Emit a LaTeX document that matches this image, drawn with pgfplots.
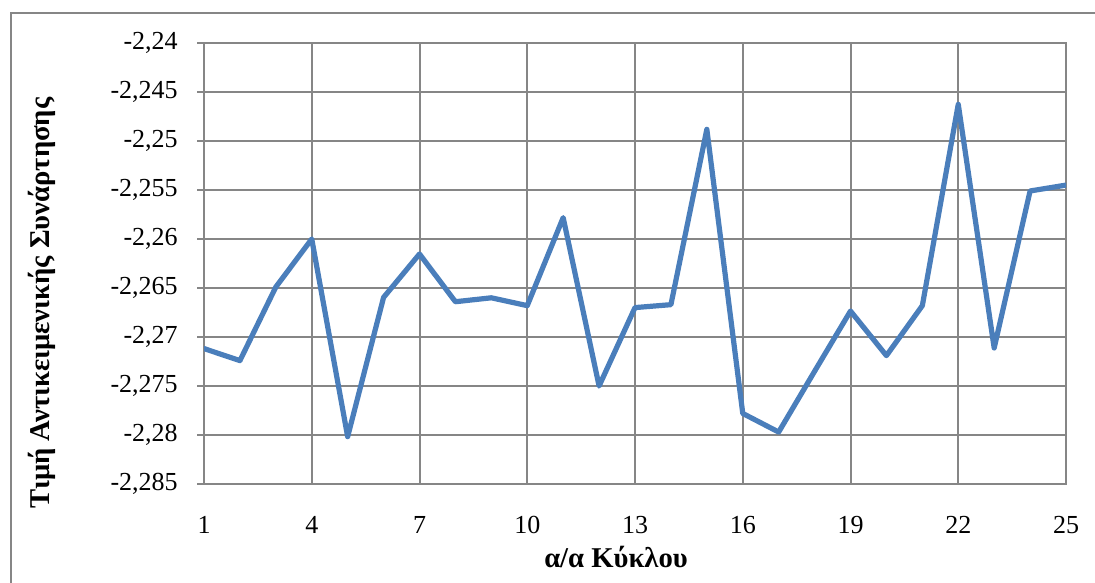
\documentclass[border=0pt]{standalone}
\usepackage{fontspec}
\setmainfont{Liberation Serif}
\usepackage{pgfplots}
\pgfplotsset{compat=1.18}
\definecolor{seriesblue}{HTML}{4A7EBB}
\definecolor{gridgray}{HTML}{868686}
\begin{document}
\begin{tikzpicture}
  % page frame
  \useasboundingbox (0,0) rectangle (821.25pt,436.5pt);
  \draw[gridgray, line width=1.5pt] (8.25pt,-20pt) -- (8.25pt,426.75pt) -- (850pt,426.75pt);
  \begin{axis}[
    at={(153pt,73.5pt)}, anchor=south west,
    scale only axis, width=646.5pt, height=330.75pt,
    xmin=1, xmax=25, ymin=-2.285, ymax=-2.24,
    xtick={1,4,7,10,13,16,19,22,25},
    ytick={-2.285,-2.28,-2.275,-2.27,-2.265,-2.26,-2.255,-2.25,-2.245,-2.24},
    scaled y ticks=false,
    ytick pos=left, xtick pos=bottom,
    grid=major,
    major grid style={gridgray, line width=1.5pt},
    axis line style={gridgray, line width=1.5pt},
    tick align=outside, major tick length=5.25pt,
    ytick style={gridgray, line width=1.5pt},
    xtick style={draw=none},
    tick label style={font=\fontsize{19.5}{22}\selectfont},
    yticklabel style={anchor=east, inner sep=0pt, xshift=-14.25pt},
    xticklabel style={anchor=center, inner sep=0pt, yshift=-25.5pt},
    /pgf/number format/.cd, fixed, precision=3, use comma, assume math mode=true,
  ]
    \addplot[seriesblue, line width=3.9pt, line join=round, line cap=round]
      coordinates {
        (1,-2.27118) (2,-2.27241) (3,-2.26490) (4,-2.26000) (5,-2.28017)
        (6,-2.26596) (7,-2.26153) (8,-2.26640) (9,-2.26600) (10,-2.26680)
        (11,-2.25782) (12,-2.27500) (13,-2.26700) (14,-2.26670) (15,-2.24881)
        (16,-2.27780) (17,-2.27970) (18,-2.27350) (19,-2.26735) (20,-2.27190)
        (21,-2.26680) (22,-2.24626) (23,-2.27112) (24,-2.25510) (25,-2.25450)
      };
  \end{axis}
  \node[rotate=90, font=\fontsize{21.5}{25}\selectfont\bfseries] at (31.5pt,209.25pt) {Τιμή Αντικειμενικής Συνάρτησης};
  \node[font=\fontsize{21.5}{25}\selectfont\bfseries] at (462pt,18.75pt) {α/α Κύκλου};
\end{tikzpicture}
\end{document}
